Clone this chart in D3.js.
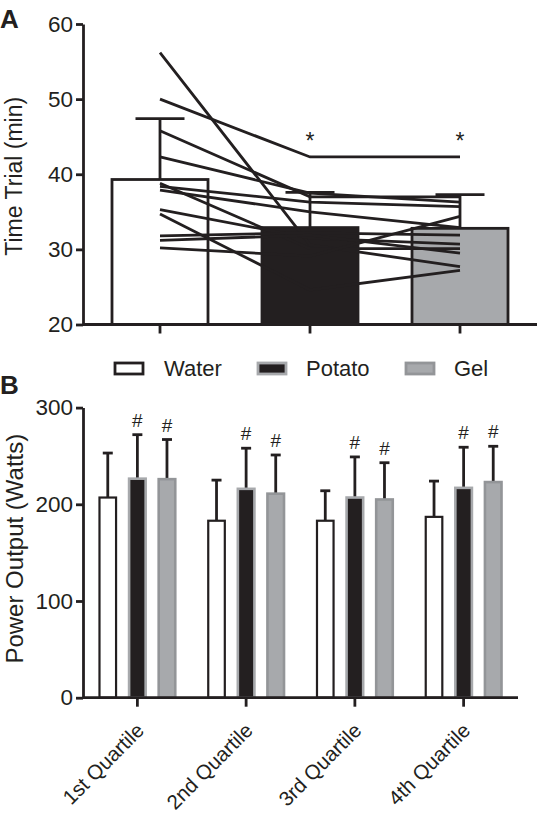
<!DOCTYPE html>
<html>
<head>
<meta charset="utf-8">
<script src="https://cdn.jsdelivr.net/npm/d3@7"></script>
<style>
  html, body { margin: 0; padding: 0; background: #fff; }
  svg { display: block; }
  text { font-family: "Liberation Sans", Arial, sans-serif; fill: #231f20; }
</style>
</head>
<body>
<svg id="chart" width="538" height="815"></svg>
<script>
// ---------- Panel A data ----------
const treatments = ["Water", "Potato", "Gel"];
const waterTT  = [56.2, 50.0, 45.8, 42.3, 38.8, 38.4, 37.9, 35.3, 34.7, 31.8, 31.2, 30.2];
const potatoTT = [30.6, 42.3, 37.0, 37.5, 30.1, 36.3, 35.0, 31.5, 24.6, 32.2, 31.9, 29.1];
const gelTT    = [27.7, 42.3, 37.0, 36.3, 30.1, 35.7, 32.9, 30.7, 27.2, 31.9, 29.5, 34.4];
const meanTT = [39.3, 32.9, 32.8];
const sdTT   = [8.1, 4.7, 4.5];
const ticksA = [20, 30, 40, 50, 60];
const starTreatments = ["Potato", "Gel"];
const starLevel = 43.4;

// ---------- Panel B data ----------
const quartiles = ["1st Quartile", "2nd Quartile", "3rd Quartile", "4th Quartile"];
const waterPO  = [207, 183, 183, 187];
const waterSD  = [46, 42, 31, 37];
const potatoPO = [226.5, 216, 207, 217];
const potatoSD = [45.5, 42, 42, 42];
const gelPO    = [226, 211, 205, 223];
const gelSD    = [41, 40, 38, 37];
const ticksB = [0, 100, 200, 300];
const hashSeries = ["Potato", "Gel"];

const INK = "#231f20";
const GRAY = "#a7a9ac";
const GRAY_DARK = "#939598";
const SW = 2.8;

const svg = d3.select("#chart");

// ================= PANEL A =================
const yA = d3.scaleLinear().domain([20, 60]).range([324.5, 24]);
const xA = d3.scaleBand().domain(treatments).range([85, 535]).paddingInner(0.36).paddingOuter(0.18);
const cA = t => xA(t) + xA.bandwidth() / 2;

const gA = svg.append("g");

const fillA = { Water: "#fff", Potato: INK, Gel: GRAY };

gA.selectAll("rect.barA").data(treatments).join("rect")
  .attr("x", d => xA(d))
  .attr("width", xA.bandwidth())
  .attr("y", (d, i) => yA(meanTT[i]))
  .attr("height", (d, i) => yA(20) - yA(meanTT[i]))
  .attr("fill", d => fillA[d])
  .attr("stroke", INK)
  .attr("stroke-width", SW);

treatments.forEach((t, i) => {
  const c = cA(t);
  gA.append("line").attr("x1", c).attr("x2", c)
    .attr("y1", yA(meanTT[i])).attr("y2", yA(meanTT[i] + sdTT[i]))
    .attr("stroke", INK).attr("stroke-width", SW);
  gA.append("line").attr("x1", c - 24.5).attr("x2", c + 24.5)
    .attr("y1", yA(meanTT[i] + sdTT[i])).attr("y2", yA(meanTT[i] + sdTT[i]))
    .attr("stroke", INK).attr("stroke-width", SW);
});

const subjects = waterTT.map((w, i) => [w, potatoTT[i], gelTT[i]]);
const lineA = d3.line().x((d, i) => cA(treatments[i])).y(d => yA(d));
gA.selectAll("path.subj").data(subjects).join("path")
  .attr("d", lineA)
  .attr("fill", "none")
  .attr("stroke", INK)
  .attr("stroke-width", SW);

gA.selectAll("text.star").data(starTreatments).join("text")
  .attr("x", d => cA(d)).attr("y", yA(starLevel))
  .attr("text-anchor", "middle")
  .attr("font-size", 23)
  .text("*");

const axA = gA.append("g").attr("transform", "translate(83,0)")
  .call(d3.axisLeft(yA).tickValues(ticksA).tickSize(7).tickPadding(3).tickSizeOuter(0));
axA.selectAll("path, line").attr("stroke", INK).attr("stroke-width", SW);
axA.selectAll("text").attr("font-size", 22.5).attr("fill", INK)
  .style("font-family", '"Liberation Sans", Arial, sans-serif');

gA.append("line").attr("x1", 83).attr("x2", 537).attr("y1", yA(20)).attr("y2", yA(20))
  .attr("stroke", INK).attr("stroke-width", SW);
gA.selectAll("line.tickA").data(treatments).join("line")
  .attr("x1", d => cA(d)).attr("x2", d => cA(d))
  .attr("y1", yA(20)).attr("y2", yA(20) + 9)
  .attr("stroke", INK).attr("stroke-width", SW);

gA.append("text").attr("transform", `translate(22,${(yA(20) + yA(60)) / 2 + 2}) rotate(-90)`)
  .attr("text-anchor", "middle").attr("font-size", 23).text("Time Trial (min)");

svg.append("text").attr("x", 0).attr("y", 28).attr("font-size", 26).attr("font-weight", "bold").text("A");

// ================= LEGEND =================
const legendItems = [
  { name: "Water",  fill: "#fff", stroke: INK,       bx: 115, tx: 164 },
  { name: "Potato", fill: INK,    stroke: GRAY,      bx: 258, tx: 306 },
  { name: "Gel",    fill: GRAY,   stroke: GRAY_DARK, bx: 406, tx: 454 }
];
const lg = svg.append("g");
legendItems.forEach(it => {
  lg.append("rect").attr("x", it.bx).attr("y", 363).attr("width", 28).attr("height", 11)
    .attr("fill", it.fill).attr("stroke", it.stroke).attr("stroke-width", SW);
  lg.append("text").attr("x", it.tx).attr("y", 376).attr("font-size", 22).text(it.name);
});

// ================= PANEL B =================
const yB = d3.scaleLinear().domain([0, 300]).range([697.7, 407.6]);
const x0 = d3.scaleBand().domain(quartiles).range([83, 518]);
const seriesB = ["Water", "Potato", "Gel"];
const x1 = d3.scaleBand().domain(seriesB).range([0, 88.8]).paddingInner(0.44).paddingOuter(0.22);
const valsB = { Water: waterPO, Potato: potatoPO, Gel: gelPO };
const sdsB = { Water: waterSD, Potato: potatoSD, Gel: gelSD };
const fillB = { Water: "#fff", Potato: INK, Gel: GRAY };
const strokeB = { Water: INK, Potato: GRAY, Gel: GRAY_DARK };
const strokeWB = { Water: 2.2, Potato: 2.6, Gel: 2.6 };
const gc = q => x0(q) + x0.bandwidth() / 2;
const bx = (q, s) => gc(q) - 44.4 + x1(s);

const gB = svg.append("g");
const barData = [];
quartiles.forEach((q, qi) => seriesB.forEach(s => barData.push({ q, s, v: valsB[s][qi], sd: sdsB[s][qi] })));

barData.forEach(d => {
  const c = bx(d.q, d.s) + x1.bandwidth() / 2;
  gB.append("line").attr("x1", c).attr("x2", c)
    .attr("y1", yB(d.v)).attr("y2", yB(d.v + d.sd))
    .attr("stroke", INK).attr("stroke-width", SW);
  gB.append("line").attr("x1", c - 5).attr("x2", c + 5)
    .attr("y1", yB(d.v + d.sd)).attr("y2", yB(d.v + d.sd))
    .attr("stroke", INK).attr("stroke-width", SW);
});

gB.selectAll("rect.barB").data(barData).join("rect")
  .attr("x", d => bx(d.q, d.s))
  .attr("width", x1.bandwidth())
  .attr("y", d => yB(d.v))
  .attr("height", d => yB(0) - yB(d.v))
  .attr("fill", d => fillB[d.s])
  .attr("stroke", d => strokeB[d.s])
  .attr("stroke-width", d => strokeWB[d.s]);

gB.selectAll("text.hash").data(barData.filter(d => hashSeries.includes(d.s))).join("text")
  .attr("x", d => bx(d.q, d.s) + x1.bandwidth() / 2)
  .attr("y", d => yB(d.v + d.sd) - 8)
  .attr("text-anchor", "middle")
  .attr("font-size", 19)
  .text("#");

const axB = gB.append("g").attr("transform", "translate(83,0)")
  .call(d3.axisLeft(yB).tickValues(ticksB).tickSize(7).tickPadding(3).tickSizeOuter(0));
axB.selectAll("path, line").attr("stroke", INK).attr("stroke-width", SW);
axB.selectAll("text").attr("font-size", 22.5).attr("fill", INK)
  .style("font-family", '"Liberation Sans", Arial, sans-serif');

gB.append("line").attr("x1", 83).attr("x2", 518).attr("y1", yB(0)).attr("y2", yB(0))
  .attr("stroke", INK).attr("stroke-width", SW);
gB.selectAll("line.tickB").data(quartiles).join("line")
  .attr("x1", d => gc(d)).attr("x2", d => gc(d))
  .attr("y1", yB(0)).attr("y2", yB(0) + 9)
  .attr("stroke", INK).attr("stroke-width", SW);

gB.selectAll("text.qlab").data(quartiles).join("text")
  .attr("transform", d => `translate(${gc(d) + 8},${yB(0) + 34}) rotate(-45)`)
  .attr("text-anchor", "end")
  .attr("font-size", 20.5)
  .text(d => d);

gB.append("text").attr("transform", `translate(23,${(yB(0) + yB(300)) / 2 - 4}) rotate(-90)`)
  .attr("text-anchor", "middle").attr("font-size", 24).text("Power Output (Watts)");

svg.append("text").attr("x", 0).attr("y", 394).attr("font-size", 26).attr("font-weight", "bold").text("B");
</script>
</body>
</html>
